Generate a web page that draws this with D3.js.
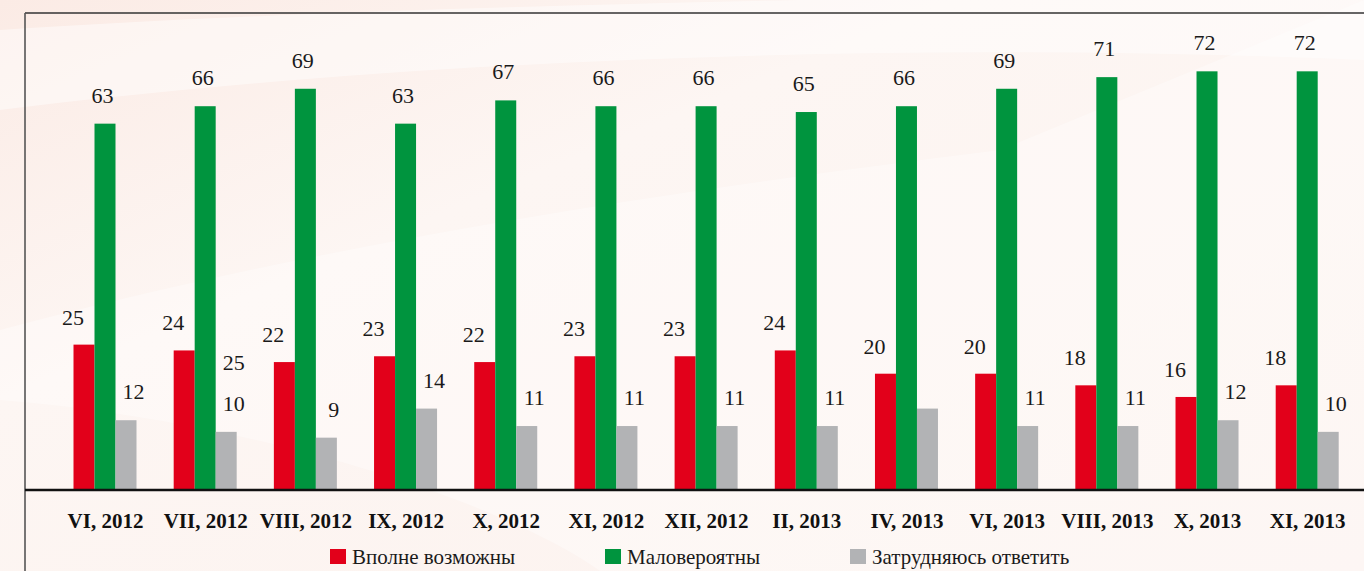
<!DOCTYPE html>
<html>
<head>
<meta charset="utf-8">
<script src="https://cdn.jsdelivr.net/npm/d3@7"></script>
<style>
  html, body { margin: 0; padding: 0; background: #fcf3ef; }
  svg { display: block; }
  .serif { font-family: "Liberation Serif", "Times New Roman", "DejaVu Serif", serif; }
</style>
</head>
<body>
<svg id="chart" width="1364" height="571"></svg>
<script>
const categories = ["VI, 2012", "VII, 2012", "VIII, 2012", "IX, 2012", "X, 2012", "XI, 2012", "XII, 2012", "II, 2013", "IV, 2013", "VI, 2013", "VIII, 2013", "X, 2013", "XI, 2013"];
const seriesNames = ["Вполне возможны", "Маловероятны", "Затрудняюсь ответить"];
const seriesColors = ["#e2001a", "#00943e", "#b2b3b5"];
const possible   = [25, 24, 22, 23, 22, 23, 23, 24, 20, 20, 18, 16, 18];
const unlikely   = [63, 66, 69, 63, 67, 66, 66, 65, 66, 69, 71, 72, 72];
const hardToSay  = [12, 10, 9, 14, 11, 11, 11, 11, 14, 11, 11, 12, 10];
// grey label is missing for IV, 2013 in the original
const hardToSayLabels = ["12", "10", "9", "14", "11", "11", "11", "11", null, "11", "11", "12", "10"];
// stray label that appears in the original next to VII, 2012
const strayLabels = [{ category: "VII, 2012", text: "25", level: 17 }];

const seriesValues = [possible, unlikely, hardToSay];
const seriesLabels = [possible.map(String), unlikely.map(String), hardToSayLabels];

const svg = d3.select("#chart");
const W = 1364, H = 571;

// background
const defs = svg.append("defs");
const bg = defs.append("linearGradient").attr("id", "bg").attr("x1", "0").attr("y1", "0").attr("x2", "1").attr("y2", "1");
bg.append("stop").attr("offset", "0%").attr("stop-color", "#fbebe5");
bg.append("stop").attr("offset", "35%").attr("stop-color", "#fdf6f3");
bg.append("stop").attr("offset", "100%").attr("stop-color", "#fcf2ee");
svg.append("rect").attr("width", W).attr("height", H).attr("fill", "url(#bg)");
// soft swooshes
svg.append("path")
  .attr("d", "M0,30 C300,10 700,0 1364,-10 L1364,60 C900,40 400,60 0,110 Z")
  .attr("fill", "#ffffff").attr("opacity", 0.45);
svg.append("path")
  .attr("d", "M0,330 C300,250 600,200 1000,150 L1364,0 L1364,571 L600,571 C500,500 250,420 0,400 Z")
  .attr("fill", "#ffffff").attr("opacity", 0.35);

const x0 = 25, yTop = 13, yBase = 490;

const xCenter = d3.scalePoint().domain(categories).range([105, 1307.2]);
const xInner = d3.scaleBand().domain(d3.range(3)).range([-31.5, 31.5]).padding(0);
const y = d3.scaleLinear().domain([0, 80]).range([yBase, yBase - 80 * 5.815]);

// frame
svg.append("line").attr("x1", x0).attr("x2", W).attr("y1", yTop).attr("y2", yTop)
  .attr("stroke", "#333").attr("stroke-width", 1.6);
svg.append("line").attr("x1", x0).attr("x2", x0).attr("y1", yTop).attr("y2", H)
  .attr("stroke", "#555").attr("stroke-width", 1.6);

// bars
const labelDx = [-11, -2.5, 7.5];
const labelGap = [20, 21, 21];
seriesValues.forEach((vals, s) => {
  const g = svg.append("g");
  g.selectAll("rect").data(categories).join("rect")
    .attr("x", (c) => xCenter(c) + xInner(s))
    .attr("width", xInner.bandwidth())
    .attr("y", (c, i) => y(vals[i]))
    .attr("height", (c, i) => y(0) - y(vals[i]))
    .attr("fill", seriesColors[s]);
  g.selectAll("text").data(categories.map((c, i) => ({ c, i })).filter(d => seriesLabels[s][d.i] != null)).join("text")
    .attr("class", "serif")
    .attr("x", d => xCenter(d.c) + xInner(s) + xInner.bandwidth() / 2 + labelDx[s])
    .attr("y", d => y(vals[d.i]) - labelGap[s])
    .attr("text-anchor", "middle")
    .style("font-size", "22px")
    .attr("fill", "#1a1a1a")
    .text(d => seriesLabels[s][d.i]);
});

// stray labels
svg.append("g").selectAll("text").data(strayLabels).join("text")
  .attr("class", "serif")
  .attr("x", d => xCenter(d.category) + xInner(2) + xInner.bandwidth() / 2 + labelDx[2])
  .attr("y", d => y(d.level) - labelGap[2])
  .attr("text-anchor", "middle")
  .style("font-size", "22px")
  .attr("fill", "#1a1a1a")
  .text(d => d.text);

// baseline
svg.append("line").attr("x1", x0).attr("x2", W).attr("y1", yBase).attr("y2", yBase)
  .attr("stroke", "#111").attr("stroke-width", 2.5);

// category axis
const xAxis = d3.axisBottom(xCenter).tickSize(0).tickPadding(0);
const axG = svg.append("g").attr("transform", `translate(0,${yBase})`).call(xAxis);
axG.select(".domain").remove();
axG.attr("font-family", null).attr("font-size", null);
axG.selectAll("text")
  .attr("class", "serif")
  .attr("dy", 0)
  .attr("y", 38)
  .style("font-size", "21px")
  .style("font-weight", "bold")
  .attr("fill", "#111");

// legend
const legendX = [330, 605, 850];
const lg = svg.append("g");
seriesNames.forEach((n, s) => {
  lg.append("rect").attr("x", legendX[s]).attr("y", 549).attr("width", 16).attr("height", 15).attr("fill", seriesColors[s]);
  lg.append("text").attr("class", "serif").attr("x", legendX[s] + 22).attr("y", 564)
    .style("font-size", "21px")
    .attr("fill", "#1a1a1a")
    .text(n);
});
</script>
</body>
</html>
